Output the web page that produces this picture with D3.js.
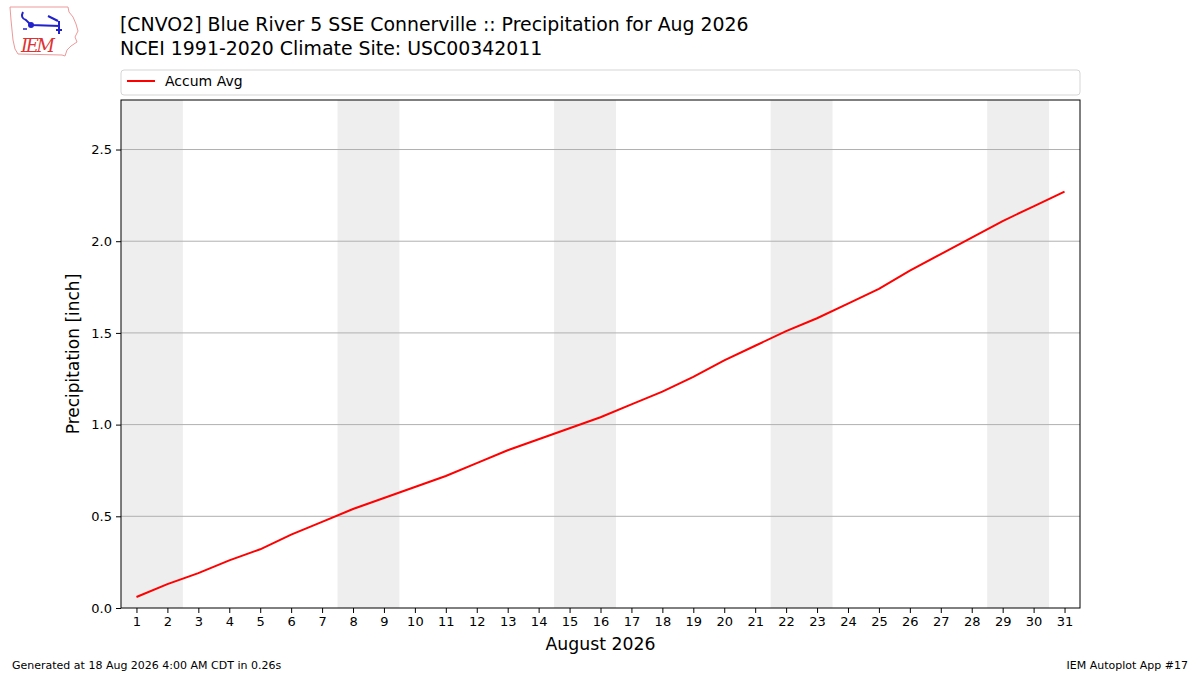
<!DOCTYPE html>
<html>
<head>
<meta charset="utf-8">
<script src="https://cdn.jsdelivr.net/npm/d3@7"></script>
<style>
  body { margin: 0; background: #fff; }
  svg { display: block; font-family: "DejaVu Sans", sans-serif; }
</style>
</head>
<body>
<div id="chart"></div>
<script>
// accumulated average precip by day of month
var days = d3.range(1, 32);
var accumAvg = [0.06, 0.13, 0.19, 0.26, 0.32, 0.40, 0.47, 0.54, 0.60, 0.66,
                0.72, 0.79, 0.86, 0.92, 0.98, 1.04, 1.11, 1.18, 1.26, 1.35,
                1.43, 1.51, 1.58, 1.66, 1.74, 1.84, 1.93, 2.02, 2.11, 2.19, 2.27];
var weekends = [[1, 2], [8, 9], [15, 16], [22, 23], [29, 30]];
var yTicks = [0.0, 0.5, 1.0, 1.5, 2.0, 2.5];

var titleLines = ["[CNVO2] Blue River 5 SSE Connerville :: Precipitation for Aug 2026",
                  "NCEI 1991-2020 Climate Site: USC00342011"];

var width = 1200, height = 675;
var margin = {left: 121, right: 120, top: 100, bottom: 67};

var svg = d3.select("#chart").append("svg")
    .attr("width", width)
    .attr("height", height);

var x = d3.scaleLinear().domain([0.5, 31.5]).range([margin.left, width - margin.right]);
var y = d3.scaleLinear().domain([0, 2.77]).range([height - margin.bottom, margin.top]);

// weekend shading
svg.selectAll("rect.wkend")
    .data(weekends)
    .enter()
    .append("rect")
    .attr("class", "wkend")
    .attr("x", function(d) { return x(d[0] - 0.5); })
    .attr("width", function(d) { return x(d[1] + 0.5) - x(d[0] - 0.5); })
    .attr("y", y(2.77))
    .attr("height", y(0) - y(2.77))
    .attr("fill", "#eeeeee");

// horizontal grid
svg.selectAll("line.grid")
    .data(yTicks.slice(1))
    .enter()
    .append("line")
    .attr("class", "grid")
    .attr("x1", x(0.5)).attr("x2", x(31.5))
    .attr("y1", function(d) { return y(d); })
    .attr("y2", function(d) { return y(d); })
    .attr("stroke", "#b0b0b0")
    .attr("stroke-width", 1);

// the line
var line = d3.line()
    .x(function(d, i) { return x(days[i]); })
    .y(function(d) { return y(d); });

svg.append("path")
    .datum(accumAvg)
    .attr("d", line)
    .attr("fill", "none")
    .attr("stroke", "red")
    .attr("stroke-width", 2);

// axes
var xAxis = d3.axisBottom(x).tickValues(days).tickSize(5).tickPadding(4);
var gx = svg.append("g")
    .attr("transform", "translate(0," + y(0) + ")")
    .call(xAxis);
gx.select(".domain").remove();

var yAxis = d3.axisLeft(y).tickValues(yTicks).tickFormat(d3.format(".1f")).tickSize(5).tickPadding(4);
var gy = svg.append("g")
    .attr("transform", "translate(" + x(0.5) + ",0)")
    .call(yAxis);
gy.select(".domain").remove();

svg.selectAll(".tick text").attr("font-size", 13).attr("fill", "#000")
    .attr("font-family", "DejaVu Sans");
svg.selectAll(".tick line").attr("stroke", "#000");

// frame
svg.append("rect")
    .attr("x", x(0.5)).attr("y", y(2.77))
    .attr("width", x(31.5) - x(0.5))
    .attr("height", y(0) - y(2.77))
    .attr("fill", "none")
    .attr("stroke", "#000")
    .attr("stroke-width", 1);

// axis labels
svg.append("text")
    .attr("x", (x(0.5) + x(31.5)) / 2)
    .attr("y", 650)
    .attr("text-anchor", "middle")
    .attr("font-size", 17.3)
    .text("August 2026");

svg.append("text")
    .attr("transform", "translate(79," + (y(0) + y(2.77)) / 2 + ") rotate(-90)")
    .attr("text-anchor", "middle")
    .attr("font-size", 17)
    .text("Precipitation [inch]");

// legend
svg.append("rect")
    .attr("x", 121).attr("y", 70)
    .attr("width", 959).attr("height", 25)
    .attr("rx", 3)
    .attr("fill", "#fff")
    .attr("stroke", "#d5d5d5");
svg.append("line")
    .attr("x1", 127).attr("x2", 155)
    .attr("y1", 81).attr("y2", 81)
    .attr("stroke", "red").attr("stroke-width", 2);
svg.append("text")
    .attr("x", 165).attr("y", 86)
    .attr("font-size", 14)
    .text("Accum Avg");

// title
svg.selectAll("text.title")
    .data(titleLines)
    .enter()
    .append("text")
    .attr("class", "title")
    .attr("x", 120)
    .attr("y", function(d, i) { return 31 + i * 24; })
    .attr("font-size", 18.9)
    .text(function(d) { return d; });

// footer
svg.append("text")
    .attr("x", 12).attr("y", 669)
    .attr("font-size", 11)
    .text("Generated at 18 Aug 2026 4:00 AM CDT in 0.26s");
svg.append("text")
    .attr("x", 1188).attr("y", 669)
    .attr("text-anchor", "end")
    .attr("font-size", 11)
    .text("IEM Autoplot App #17");

// rough IEM logo
var logo = svg.append("g");
logo.append("path")
    .attr("d", "M10,7 L68,7 L69,12 L73,17 L76,24 L78,31 L75,37 L77,42 L71,46 L67,50 L65,56 L62,55 L18,54 L15,49 L13,40 L12,30 L11,20 Z")
    .attr("fill", "none")
    .attr("stroke", "#e99")
    .attr("stroke-width", 1);
logo.append("path")
    .attr("d", "M23,12 Q20,18 26,20 L31,25 L60,26 M48,16 L58,21 M59,21 L59,34 M56,30 L62,30")
    .attr("fill", "none")
    .attr("stroke", "#22c")
    .attr("stroke-width", 2);
logo.append("circle").attr("cx", 31).attr("cy", 25).attr("r", 3).attr("fill", "#22c");
logo.append("circle").attr("cx", 24).attr("cy", 29).attr("r", 1).attr("fill", "#22c");
logo.append("circle").attr("cx", 26).attr("cy", 29).attr("r", 1).attr("fill", "#22c");
logo.append("text")
    .attr("x", 21).attr("y", 52)
    .attr("font-family", "DejaVu Serif")
    .attr("font-style", "italic")
    .attr("font-size", 18)
    .attr("fill", "#d33")
    .attr("textLength", 34)
    .text("IEM");
</script>
</body>
</html>
